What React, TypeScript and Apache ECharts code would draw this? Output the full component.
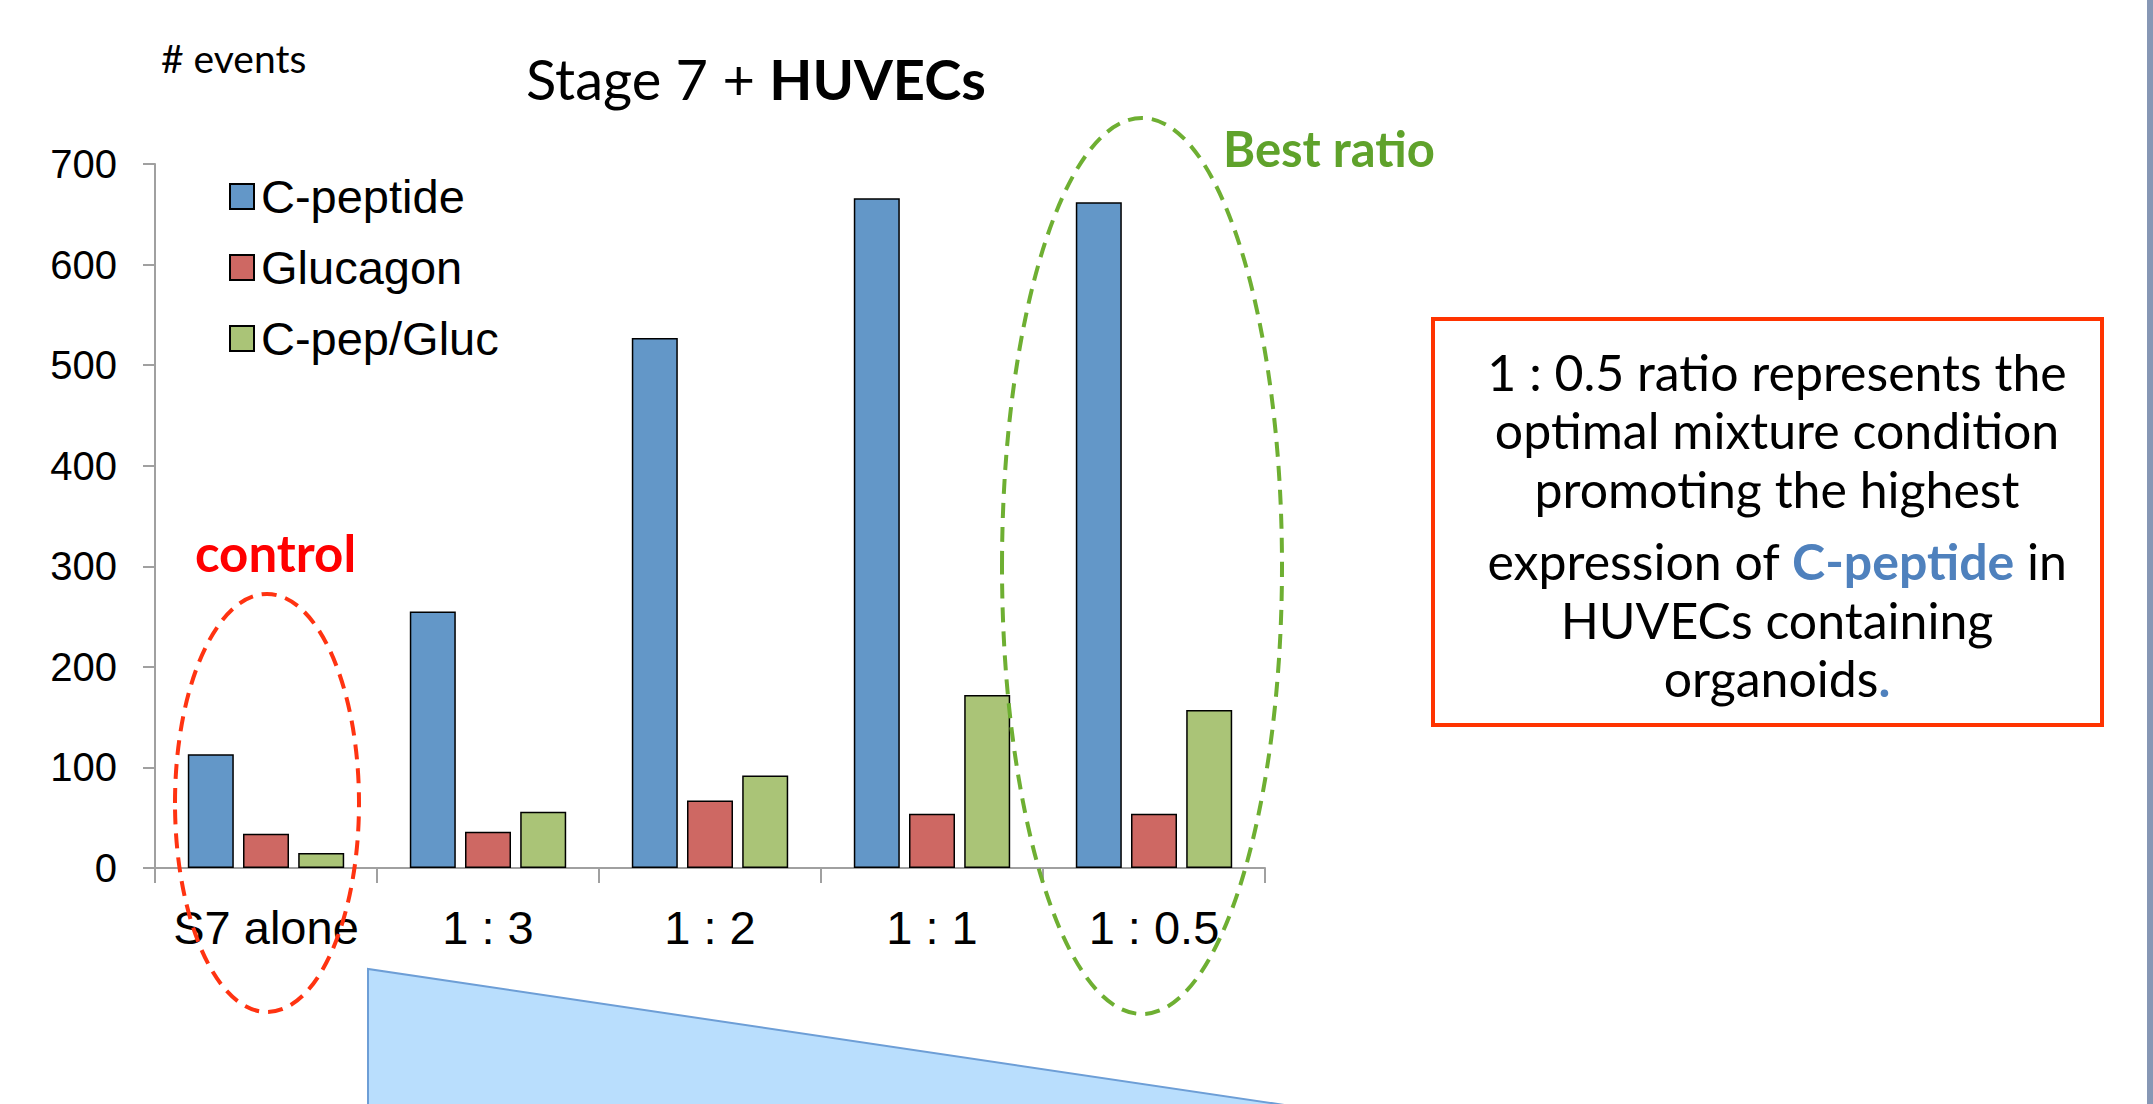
import React, { useEffect, useRef } from "react";
import * as echarts from "echarts";

const categories = ["S7 alone", "1 : 3", "1 : 2", "1 : 1", "1 : 0.5"];
const seriesNames = ["C-peptide", "Glucagon", "C-pep/Gluc"];
const cPeptide = [113, 255, 527, 666, 662];
const glucagon = [34, 36, 67, 54, 54];
const cPepGluc = [15, 56, 92, 172, 157];
const seriesColors = ["#6397C8", "#CE6863", "#AAC477"];
const yTicks = { min: 0, max: 700, interval: 100 };

const boxLines = [
  "1 : 0.5 ratio represents the",
  "optimal mixture condition",
  "promoting the highest",
  "expression of {b|C-peptide} in",
  "HUVECs containing",
  "organoids{b|.}",
];
const boxLineY = [372, 430, 489, 561, 620, 678];

export default function App() {
  const ref = useRef<HTMLDivElement>(null);
  useEffect(() => {
    if (!ref.current) return;
    const chart = echarts.init(ref.current, null, { renderer: "svg" });
    const values = [cPeptide, glucagon, cPepGluc];
    const axisGray = "#A0A0A0";
    const boxCx = 1777;
    const boxFont = { fontFamily: "Lato", fontSize: 50, fill: "#000" };
    chart.setOption({
      animation: false,
      backgroundColor: "#fff",
      grid: { left: 155, right: 888, top: 164, bottom: 236, containLabel: false },
      legend: {
        orient: "vertical",
        left: 224,
        top: 168,
        itemWidth: 24,
        itemHeight: 25,
        itemGap: 24,
        icon: "rect",
        data: seriesNames,
        textStyle: { fontFamily: "Liberation Sans", fontSize: 47, lineHeight: 46, color: "#000", padding: [0, 0, 0, 2] },
      },
      xAxis: {
        type: "category",
        data: categories,
        axisLine: { lineStyle: { color: axisGray, width: 2 } },
        axisTick: { show: true, length: 15, lineStyle: { color: axisGray, width: 2 } },
        axisLabel: { fontFamily: "Liberation Sans", fontSize: 47, color: "#000", margin: 36, interval: 0 },
      },
      yAxis: {
        type: "value",
        min: yTicks.min,
        max: yTicks.max,
        interval: yTicks.interval,
        splitLine: { show: false },
        axisLine: { show: true, lineStyle: { color: axisGray, width: 2 } },
        axisTick: { show: true, length: 12, lineStyle: { color: axisGray, width: 2 } },
        axisLabel: { fontFamily: "Liberation Sans", fontSize: 40, color: "#000", margin: 38 },
      },
      series: seriesNames.map((name, i) => ({
        name,
        type: "bar",
        data: values[i],
        barWidth: 46,
        barGap: "20%",
        itemStyle: { color: seriesColors[i], borderColor: "#000", borderWidth: 1.5 },
      })),
      graphic: [
        {
          type: "text",
          x: 161,
          y: 58,
          style: { text: "# events", fontFamily: "Lato", fontSize: 39, fill: "#000", verticalAlign: "middle" },
        },
        {
          type: "text",
          x: 526,
          y: 78,
          style: {
            text: "{a|Stage 7 + }{b|HUVECs}",
            verticalAlign: "middle",
            rich: {
              a: { fontFamily: "Lato", fontSize: 56, fill: "#000" },
              b: { fontFamily: "Lato", fontSize: 56, fontWeight: "bold", fill: "#000" },
            },
          },
        },
        {
          type: "text",
          x: 1223,
          y: 148,
          style: { text: "Best ratio", fontFamily: "Lato", fontWeight: "bold", fontSize: 49, fill: "#5FA22B", verticalAlign: "middle" },
        },
        {
          type: "text",
          x: 195,
          y: 552,
          style: { text: "control", fontFamily: "Lato", fontWeight: "bold", fontSize: 51, fill: "#FF0000", verticalAlign: "middle" },
        },
        {
          type: "ellipse",
          shape: { cx: 267, cy: 803, rx: 92, ry: 209 },
          style: { fill: "none", stroke: "#FF3311", lineWidth: 4, lineDash: [15, 9] },
          z: 100,
        },
        {
          type: "ellipse",
          shape: { cx: 1142, cy: 566, rx: 140, ry: 448 },
          style: { fill: "none", stroke: "#6EAF32", lineWidth: 4, lineDash: [15, 9] },
          z: 100,
        },
        {
          type: "polygon",
          shape: { points: [[368, 969], [368, 1106], [1291, 1106]] },
          style: { fill: "#B9DEFD", stroke: "#6D9ED6", lineWidth: 2 },
        },
        {
          type: "rect",
          shape: { x: 1433, y: 319, width: 669, height: 406 },
          style: { fill: "#fff", stroke: "#FF3300", lineWidth: 4 },
        },
        ...boxLines.map((line, i) => ({
          type: "text",
          x: boxCx,
          y: boxLineY[i],
          z: 110,
          style: {
            text: line,
            align: "center",
            verticalAlign: "middle",
            ...boxFont,
            rich: {
              b: { fontFamily: "Lato", fontSize: 50, fontWeight: "bold", fill: "#4F81BD" },
            },
          },
        })),
        {
          type: "rect",
          shape: { x: 2147, y: 0, width: 6, height: 1104 },
          style: { fill: "#8797B5" },
        },
      ],
    });
    return () => chart.dispose();
  }, []);
  return (
    <div
      ref={ref}
      style={{ position: "absolute", left: 0, top: 0, width: 2153, height: 1104, background: "#fff" }}
    />
  );
}
